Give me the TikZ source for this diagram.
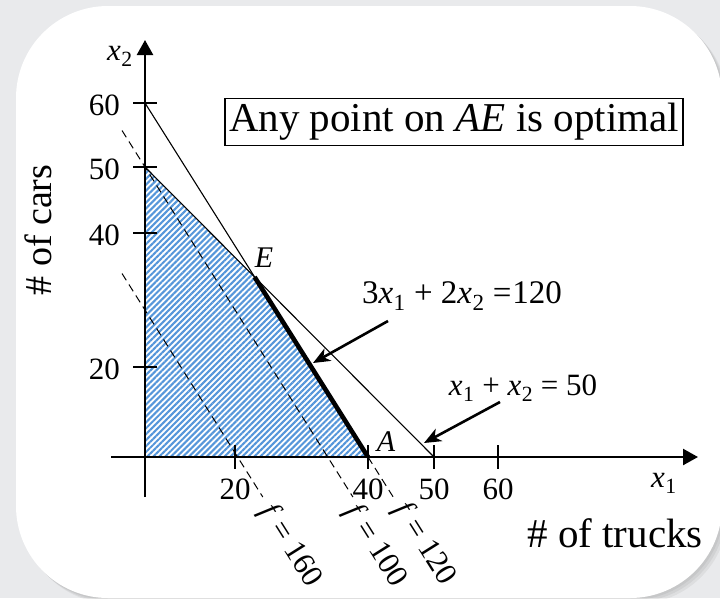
\documentclass[tikz,border=0pt]{standalone}
\usepackage{fontspec}
\setmainfont{Liberation Serif}
\usetikzlibrary{arrows.meta,patterns.meta}
\definecolor{canvas}{HTML}{E9EAEC}
\definecolor{hatch}{HTML}{5596DA}
\newcommand{\xs}[1]{\textit{x}\kern0.5pt\textsubscript{#1}}
\tikzset{
  axis/.style={line width=2.4pt,-{Triangle[length=15pt,width=16pt]}},
  tickmark/.style={line width=1.3pt},
  cons/.style={line width=1.1pt},
  optimal/.style={line width=4.6pt},
  level/.style={line width=1pt,dash pattern=on 8pt off 5pt},
  callout/.style={line width=2.6pt,-{Stealth[length=17pt,width=14pt,inset=5pt]}},
  numlbl/.style={font=\fontsize{31}{31}\selectfont,inner sep=0pt},
  ptlbl/.style={font=\fontsize{30}{30}\selectfont\itshape,inner sep=0pt},
  eqlbl/.style={font=\fontsize{31}{31}\selectfont,inner sep=0pt},
  axlbl/.style={font=\fontsize{38}{38}\selectfont,inner sep=0pt},
  note/.style={draw,line width=1.4pt,inner xsep=4pt,inner ysep=5pt,
               font=\fontsize{41}{41}\selectfont}
}

\begin{document}
\begin{tikzpicture}[x=1pt,y=-1pt]
\useasboundingbox (0,0) rectangle (720,598);
% panel
\fill[canvas] (0,0) rectangle (720,598);
\foreach \d in {2,4,6}
  \fill[black,opacity=0.05,rounded corners=92pt] (16+\d,6+\d) rectangle (722+\d,598+\d);
\fill[white,rounded corners=92pt] (16,6) rectangle (722,598);

% points
\coordinate (O) at (145,457);
\coordinate (Y50) at (145,167);
\coordinate (Y60) at (145,103);
\coordinate (A) at (368,457);
\coordinate (X50) at (434,457);
\coordinate (E) at (intersection of Y60--A and Y50--X50);

% feasible region
\fill[pattern={Lines[angle=45,distance=4.2pt,line width=2.1pt]},pattern color=hatch]
  (O) -- (Y50) -- (E) -- (A) -- cycle;

% level lines of f
\coordinate (d1a) at (122,273.5); \coordinate (d1b) at (262.8,497);
\coordinate (d2a) at (122,130.5); \coordinate (d2b) at (352.9,497);
\coordinate (d3b) at (393.2,497);
\draw[level] (d1a) -- (d1b);
\draw[level] (d2a) -- (d2b);
\draw[level] (A) -- (d3b);

% constraints
\draw[cons] (Y60) -- (A);
\draw[cons] (Y50) -- (X50);
\draw[optimal] (E) -- (A);

% axes
\draw[axis] (111,457) -- (698,457);
\draw[axis] (145,497) -- (145,40);
\foreach \x/\v in {235/20,368/40,434/50,498/60} {
  \draw[tickmark] (\x,445) -- (\x,469);
  \node[numlbl] (tx\v) at (\x,489) {\v};
}
\foreach \y/\v in {103/60,167/50,233/40,367/20} {
  \draw[tickmark] (133,\y) -- (157,\y);
  \node[numlbl,anchor=east] (ty\v) at (120,\y+2) {\v};
}
\node[eqlbl] (lblx2) at (120,56) {\xs{2}};
\node[eqlbl] (lblx1) at (664,483) {\xs{1}};
\node[axlbl,rotate=90] (cars) at (38,230) {\# of cars};
\node[axlbl,font=\fontsize{41}{41}\selectfont] (trucks) at (615,533) {\# of trucks};

% labels
\node[ptlbl] (lblE) at (264,258) {E};
\node[ptlbl] (lblA) at (386,442) {A};
\node[note] (opt) at (454,122) {Any point on \textit{AE} is optimal};
\node[eqlbl,font=\fontsize{33}{33}\selectfont] (eqtruck) at (462,296) {3\xs{1} + 2\xs{2} =\kern1pt120};
\node[eqlbl] (eqcars) at (523,388) {\xs{1} + \xs{2} = 50};
\coordinate (c1) at (388,321); \coordinate (c1tip) at (313,363);
\coordinate (c2) at (500,402); \coordinate (c2tip) at (424,443);
\draw[callout] (c1) -- (c1tip);
\draw[callout] (c2) -- (c2tip);

\node[eqlbl,rotate=-57.8] (f160) at (290,546) {\textit{f} = 160};
\node[eqlbl,rotate=-57.8] (f100) at (375,546) {\textit{f} = 100};
\node[eqlbl,rotate=-57.8] (f120) at (424,544) {\textit{f} = 120};
\end{tikzpicture}
\end{document}
